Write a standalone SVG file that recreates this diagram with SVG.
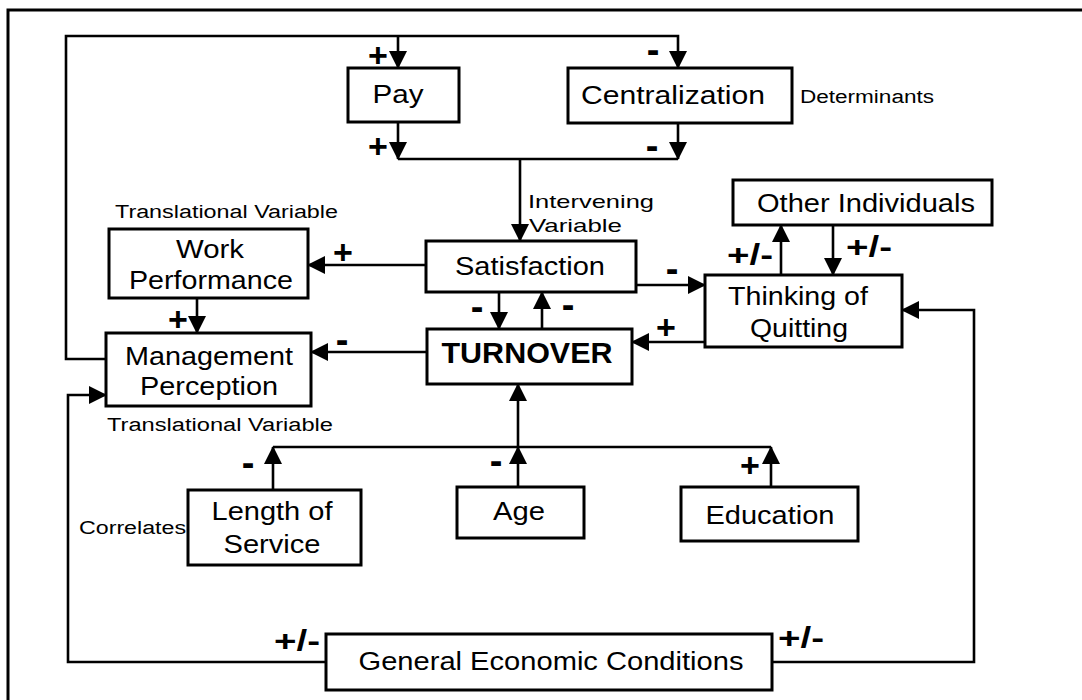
<svg xmlns="http://www.w3.org/2000/svg" width="1082" height="700" viewBox="0 0 1082 700">
<style>
.box{fill:#fff;stroke:#000;stroke-width:3}
.ln{fill:none;stroke:#000;stroke-width:2.6}
.t{font-family:"Liberation Sans",Arial,sans-serif;font-size:25px;fill:#000;text-anchor:middle}
.b{font-weight:bold;font-size:29px}
.s{font-family:"Liberation Sans",Arial,sans-serif;font-size:18px;fill:#000}
.sg{font-family:"Liberation Sans",Arial,sans-serif;font-size:34px;font-weight:bold;fill:#000;text-anchor:middle}
.mn{font-family:"Liberation Sans",Arial,sans-serif;font-size:38px;font-weight:bold;fill:#000;text-anchor:middle}
.pm{font-family:"Liberation Sans",Arial,sans-serif;font-size:29px;font-weight:bold;fill:#000;text-anchor:middle}
</style>
<defs>
<marker id="ah" markerUnits="userSpaceOnUse" markerWidth="19" markerHeight="18" refX="17" refY="9" orient="auto"><path d="M0,0 L18,9 L0,18 z" fill="#000"/></marker>
</defs>
<rect width="1082" height="700" fill="#fff"/>
<!-- page frame -->
<path d="M8,700 V10 H1082" fill="none" stroke="#000" stroke-width="3"/>

<!-- connectors -->
<g id="connectors" class="ln" marker-end="url(#ah)">
<path d="M106,359 H66 V36 H678 V68"/>
<path d="M398,36 V68"/>
<path d="M398,122 V159"/>
<path d="M678,123 V159"/>
<path d="M398,159 H678" marker-end="none"/>
<path d="M520,159 V241"/>
<path d="M426,265 H308"/>
<path d="M197,298 V333"/>
<path d="M499,292 V329"/>
<path d="M542,329 V292"/>
<path d="M636,285 H705"/>
<path d="M705,342 H632"/>
<path d="M427,352 H311"/>
<path d="M781,275 V225"/>
<path d="M833,225 V275"/>
<path d="M273,447 H771" marker-end="none"/>
<path d="M518,447 V384"/>
<path d="M273,490 V447"/>
<path d="M518,487 V447"/>
<path d="M771,487 V447"/>
<path d="M326,662 H68 V395 H106"/>
<path d="M772,662 H974 V310 H902"/>
</g>

<!-- signs on connectors -->
<g id="signs">
<text class="sg" x="378" y="67">+</text>
<text class="sg" x="378" y="158">+</text>
<text class="mn" x="653" y="63">-</text>
<text class="mn" x="652" y="159">-</text>
<text class="sg" x="343" y="264">+</text>
<text class="sg" x="178" y="331">+</text>
<text class="mn" x="342" y="353">-</text>
<text class="mn" x="477" y="320">-</text>
<text class="mn" x="568" y="318">-</text>
<text class="mn" x="672" y="282">-</text>
<text class="sg" x="666" y="339">+</text>
<text class="mn" x="248" y="476">-</text>
<text class="mn" x="496" y="474">-</text>
<text class="sg" x="750" y="477">+</text>
<text class="pm" x="750" y="265" textLength="46" lengthAdjust="spacingAndGlyphs">+/-</text>
<text class="pm" x="869" y="257" textLength="46" lengthAdjust="spacingAndGlyphs">+/-</text>
<text class="pm" x="297" y="651" textLength="46" lengthAdjust="spacingAndGlyphs">+/-</text>
<text class="pm" x="801" y="648" textLength="46" lengthAdjust="spacingAndGlyphs">+/-</text>
</g>

<!-- nodes -->
<g id="pay"><rect class="box" x="348" y="68" width="111" height="54"/><text class="t" x="398" y="103" textLength="51" lengthAdjust="spacingAndGlyphs">Pay</text></g>
<g id="centralization"><rect class="box" x="568" y="68" width="224" height="55"/><text class="t" x="673" y="104" textLength="184" lengthAdjust="spacingAndGlyphs">Centralization</text></g>
<g id="other-individuals"><rect class="box" x="733" y="180" width="259" height="45"/><text class="t" x="866" y="212" textLength="218" lengthAdjust="spacingAndGlyphs">Other Individuals</text></g>
<g id="work-performance"><rect class="box" x="109" y="229" width="199" height="69"/><text class="t" x="210" y="258" textLength="68" lengthAdjust="spacingAndGlyphs">Work</text><text class="t" x="211" y="289" textLength="164" lengthAdjust="spacingAndGlyphs">Performance</text></g>
<g id="satisfaction"><rect class="box" x="426" y="241" width="210" height="51"/><text class="t" x="530" y="275" textLength="150" lengthAdjust="spacingAndGlyphs">Satisfaction</text></g>
<g id="thinking-of-quitting"><rect class="box" x="705" y="275" width="197" height="72"/><text class="t" x="798" y="305" textLength="140" lengthAdjust="spacingAndGlyphs">Thinking of</text><text class="t" x="799" y="337" textLength="98" lengthAdjust="spacingAndGlyphs">Quitting</text></g>
<g id="management-perception"><rect class="box" x="106" y="333" width="205" height="73"/><text class="t" x="209" y="365" textLength="168" lengthAdjust="spacingAndGlyphs">Management</text><text class="t" x="209" y="395" textLength="138" lengthAdjust="spacingAndGlyphs">Perception</text></g>
<g id="turnover"><rect class="box" x="427" y="329" width="205" height="55"/><text class="t b" x="527" y="363" textLength="171" lengthAdjust="spacingAndGlyphs">TURNOVER</text></g>
<g id="length-of-service"><rect class="box" x="188" y="490" width="173" height="75"/><text class="t" x="272" y="520" textLength="121" lengthAdjust="spacingAndGlyphs">Length of</text><text class="t" x="272" y="553" textLength="97" lengthAdjust="spacingAndGlyphs">Service</text></g>
<g id="age"><rect class="box" x="457" y="487" width="127" height="51"/><text class="t" x="519" y="520" textLength="52" lengthAdjust="spacingAndGlyphs">Age</text></g>
<g id="education"><rect class="box" x="681" y="487" width="177" height="54"/><text class="t" x="770" y="524" textLength="129" lengthAdjust="spacingAndGlyphs">Education</text></g>
<g id="general-economic-conditions"><rect class="box" x="326" y="634" width="446" height="56"/><text class="t" x="551" y="670" textLength="385" lengthAdjust="spacingAndGlyphs">General Economic Conditions</text></g>

<!-- annotations -->
<g id="annotations" class="s">
<text x="800" y="103" textLength="134" lengthAdjust="spacingAndGlyphs">Determinants</text>
<text x="528" y="208" font-size="19" textLength="126" lengthAdjust="spacingAndGlyphs">Intervening</text>
<text x="529" y="232" font-size="19" textLength="93" lengthAdjust="spacingAndGlyphs">Variable</text>
<text x="115" y="218" textLength="223" lengthAdjust="spacingAndGlyphs">Translational Variable</text>
<text x="107" y="431" textLength="226" lengthAdjust="spacingAndGlyphs">Translational Variable</text>
<text x="79" y="534" textLength="107" lengthAdjust="spacingAndGlyphs">Correlates</text>
</g>
</svg>
